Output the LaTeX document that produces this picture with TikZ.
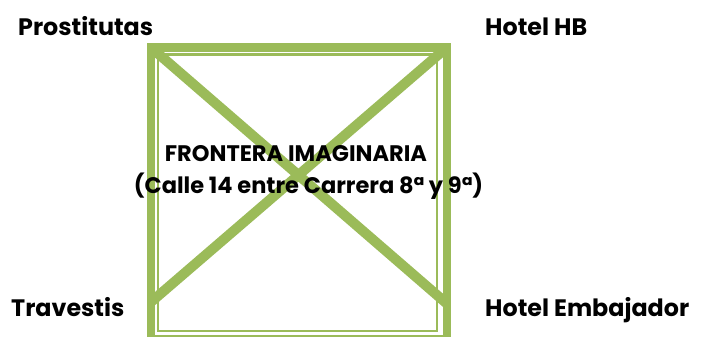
\documentclass[tikz,border=0pt]{standalone}
\usepackage{fontspec}
\setmainfont{Poppins}
\usepackage{xcolor}
\usepackage{tikz}
\usetikzlibrary{positioning,calc}

\definecolor{olivegreen}{HTML}{9BBB59}

\begin{document}
\begin{tikzpicture}[
    x=1pt, y=-1pt,
    frame/.style={draw=olivegreen, line width=8.4pt},
    innerframe/.style={draw=olivegreen, line width=2.3pt},
    cross/.style={draw=olivegreen, line width=10pt},
    corner/.style={inner sep=0pt, font=\bfseries\fontsize{23.8}{28}\selectfont},
    border/.style={inner sep=0pt, font=\bfseries\fontsize{22.5}{26}\selectfont}
]
\useasboundingbox (0,0) rectangle (701,337);
% frontier box
\coordinate (tl) at (151,47.5);
\coordinate (tr) at (446.7,47.5);
\coordinate (bl) at (151,302);
\coordinate (br) at (446.7,303.5);
\draw[frame] (tl) rectangle (446.7,339.5);
\draw[innerframe] (158.3,54.5) rectangle (437.2,331);
\draw[cross] (tl) -- (br);
\draw[cross] (tr) -- (bl);
% labels
\node[corner, anchor=base west] (prost) at (18,36) {Prostitutas};
\node[corner, anchor=base west] (hb) at (485,36) {Hotel HB};
\node[corner, anchor=base west] (trav) at (11,316) {Travestis};
\node[corner, anchor=base west] (emb) at (485,316) {Hotel Embajador};
\node[border, anchor=base] (frontera) at (296,161) {FRONTERA IMAGINARIA};
\node[border, anchor=base] (calle) at (308.5,193) {(Calle 14 entre Carrera 8ª y 9ª)};
\end{tikzpicture}
\end{document}
